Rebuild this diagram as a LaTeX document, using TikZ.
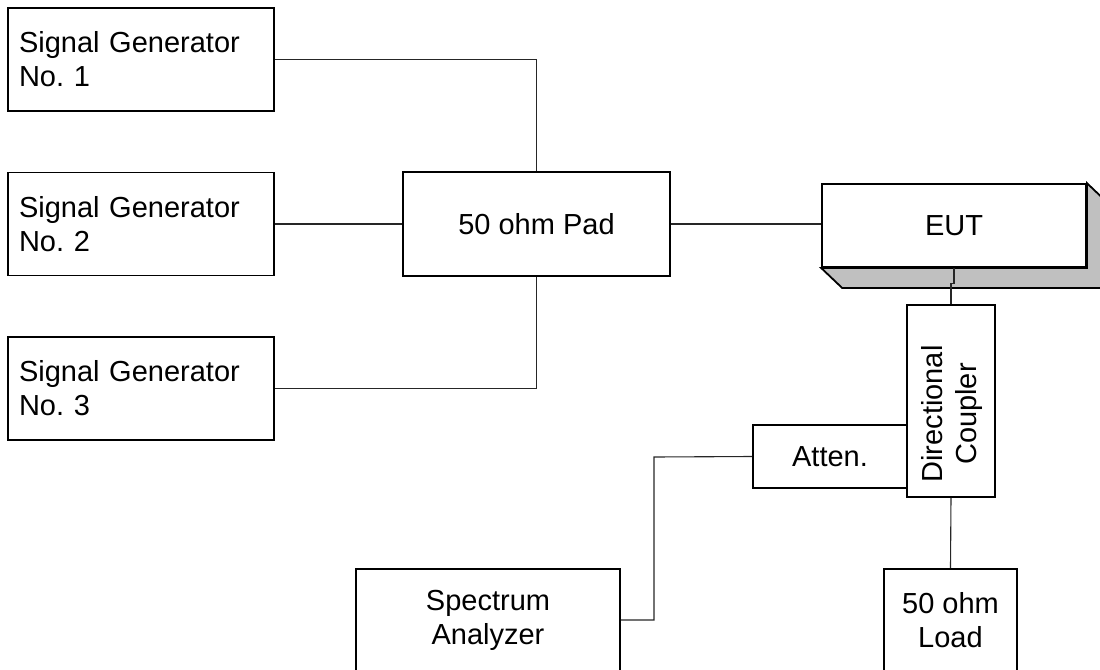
\documentclass[tikz,border=0pt]{standalone}
\usepackage{fontspec}
\setmainfont{Liberation Sans}
\usetikzlibrary{positioning}
\usetikzlibrary{calc}
\definecolor{shade}{RGB}{192,192,192}
\frenchspacing

\tikzset{
  block/.style={draw, line width=0.9pt, fill=white, inner sep=0pt,
                font=\fontsize{14.5}{17}\selectfont, align=center},
  genblock/.style={block, minimum width=133pt, minimum height=51.5pt,
                   text width=122pt, align=left},
  wire/.style={line width=0.55pt, black!85},
}

\begin{document}
\begin{tikzpicture}[x=0.5pt,y=-0.5pt]
\useasboundingbox (0,0) rectangle (1100,670);

%---------------------------------------
% Signal generators and pad
%---------------------------------------
\node[genblock] (gen1) at (141,59.5)  {Signal Generator\\No. 1};
\node[genblock] (gen2) at (141,224)   {Signal Generator\\No. 2};
\node[genblock] (gen3) at (141,388.5) {Signal Generator\\No. 3};

\node[block, minimum width=133.5pt, minimum height=52pt] (pad) at (536.5,224) {50 ohm Pad};

%---------------------------------------
% EUT (raised box)
%---------------------------------------
\node[block, minimum width=132pt, minimum height=41.5pt] (eut) at (954,225.5) {EUT};
\draw[line width=0.9pt, fill=shade]
  (eut.south west) -- ++(21,20) -- ($(eut.south east)+(21,20)$)
  -- ($(eut.north east)+(21,20)$) -- (eut.north east) -- (eut.south east) -- cycle;

%---------------------------------------
% Coupler, attenuator, analyzer, load
%---------------------------------------
\node[block, minimum width=44pt, minimum height=96pt] (coupler) at (951,401) {};
\node[rotate=90, align=center, font=\fontsize{14.5}{17}\selectfont] (couplertext)
  at ($(coupler.center)+(1,13)$) {Directional\\Coupler};

\node[block, minimum width=77pt, minimum height=31.5pt] (atten) at (830,456.5) {Atten.};
\node[block, minimum width=132pt, minimum height=51pt] (spectrum) at (488,620) {Spectrum\\Analyzer};
\node[block, minimum width=66.5pt, minimum height=51pt] (load) at (950.5,620) {50 ohm\\Load};

%---------------------------------------
% Wiring
%---------------------------------------
\draw[wire] (gen1.east) -| (pad.north);
\draw[wire] (gen2.east) -- (pad.west);
\draw[wire] (gen3.east) -| (pad.south);
\draw[wire] (pad.east) -- (pad.east -| eut.west);

\draw[wire] (eut.south) -- ++(0,16) -| (coupler.north);
\draw[wire] (coupler.south) -- (load.north);

\coordinate (bend) at (654,457);
\draw[wire] (atten.west) -- (bend) |- (spectrum.east);

\end{tikzpicture}
\end{document}
